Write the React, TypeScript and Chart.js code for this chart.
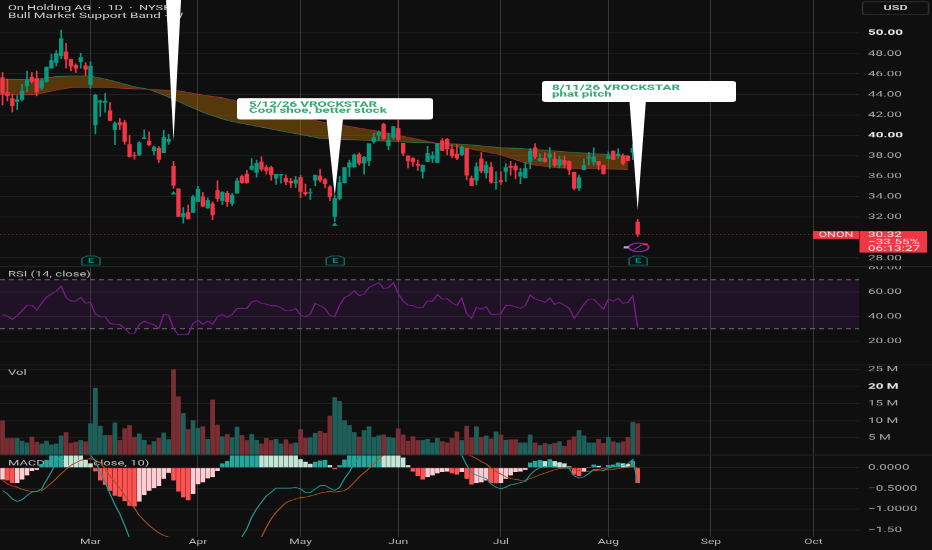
import React, { useEffect, useRef } from "react";
import { Chart, registerables } from "chart.js";

Chart.register(...registerables);

const opens = [45.64,44.2,43.6,43.3,43.5,44.8,45.7,45.57,44.6,45.25,46.55,47.1,47.75,48.18,47.45,46.87,47.2,46.8,44.92,41.0,43.22,43.2,42.4,40.52,41.27,41.24,39.12,38.07,38.08,39.65,39.45,38.47,38.73,38.3,39.38,36.97,34.77,32.0,32.47,32.45,33.5,34.0,32.87,33.32,34.6,33.6,34.33,33.33,34.33,36.0,36.2,36.67,36.38,37.4,36.87,36.87,35.8,36.1,35.8,35.5,35.3,35.9,34.45,34.35,35.6,36.05,35.67,34.98,32.05,33.8,35.37,36.87,36.87,38.13,37.27,37.5,39.37,40.0,41.1,39.0,39.77,40.7,39.25,38.0,37.75,37.2,36.45,37.43,37.73,37.33,39.48,39.6,38.65,38.17,38.1,38.72,35.8,35.6,37.7,36.3,36.9,35.37,35.6,36.45,37.0,37.0,36.0,35.85,37.43,38.8,37.5,37.78,37.85,37.7,37.05,37.55,37.43,36.4,34.82,36.64,37.75,37.37,37.43,37.07,37.72,38.47,38.0,38.0,37.97,38.33,31.55];
const highs = [46.16,45.5,44.0,43.88,45.0,46.3,46.16,46.3,45.57,46.7,47.95,48.3,50.3,49.0,47.45,47.0,48.05,47.13,47.2,44.04,43.45,44.1,43.22,41.33,41.66,41.5,40.0,38.37,39.38,40.55,40.35,38.97,38.9,40.52,40.13,37.5,34.83,32.97,33.2,34.17,35.05,34.43,33.9,33.52,35.57,34.5,34.56,34.33,35.8,36.12,36.6,37.75,37.6,37.9,37.1,37.0,36.2,36.2,36.15,35.8,36.0,36.1,35.25,34.8,36.1,36.7,35.8,35.1,34.16,35.98,36.87,37.6,38.2,38.3,37.95,39.2,40.2,40.45,41.2,40.2,40.9,41.5,39.25,38.0,37.83,37.6,37.1,38.95,38.4,39.2,39.7,39.7,39.05,39.1,38.98,38.72,36.05,37.35,38.33,37.43,37.36,36.45,36.45,37.25,37.5,37.25,36.8,37.36,38.72,39.2,38.2,38.3,38.83,38.35,37.95,37.95,37.52,36.43,36.12,37.69,38.37,38.8,37.5,37.1,38.4,38.5,38.7,38.2,38.05,39.1,31.8];
const lows = [42.96,43.35,42.25,42.48,43.35,44.27,45.08,43.85,44.43,45.18,46.55,46.77,47.5,46.55,46.3,46.1,46.55,45.83,44.6,40.13,41.82,42.25,41.4,39.05,40.52,39.12,37.85,37.65,38.0,39.65,38.97,38.08,37.33,38.3,39.1,34.8,32.05,31.4,31.8,32.45,33.5,33.03,32.87,31.73,33.52,33.2,33.03,33.13,34.33,35.3,35.3,36.6,35.9,36.5,36.2,35.6,35.2,35.3,35.15,34.86,34.9,33.9,34.1,33.72,35.05,35.4,34.85,33.6,31.56,33.66,35.3,35.97,36.87,37.1,36.2,37.0,39.2,39.5,39.6,38.57,39.6,39.4,38.0,36.8,36.96,36.55,35.8,37.4,37.3,37.3,38.47,38.08,37.8,37.6,38.0,35.63,35.05,35.15,36.3,35.8,35.3,34.7,35.2,35.47,36.1,35.73,35.25,35.8,36.7,37.7,37.43,37.35,36.77,36.95,36.8,36.85,36.12,34.65,34.6,36.61,37.1,37.1,36.6,36.2,37.7,37.6,37.75,37.1,37.5,37.6,30.1];
const closes = [44.1,43.85,42.87,43.5,44.35,45.37,45.25,44.2,45.34,46.68,47.33,48.0,49.45,47.43,46.77,46.55,47.62,46.45,46.77,43.94,43.39,43.36,41.43,41.17,41.0,39.38,37.92,37.98,39.28,39.77,39.05,38.86,37.65,39.83,39.6,35.1,32.05,32.38,31.83,34.0,34.75,33.05,33.65,32.22,33.8,34.43,33.49,34.17,35.57,35.37,35.37,37.0,37.27,36.68,36.55,36.13,36.2,36.2,35.45,35.33,35.65,34.5,34.25,34.42,36.1,35.6,35.25,34.0,33.84,35.4,36.87,37.33,38.1,37.27,37.85,39.2,39.8,40.3,39.63,39.55,40.85,39.6,38.25,37.5,37.4,37.05,37.1,38.24,38.0,39.2,38.5,38.65,38.0,37.75,38.84,36.1,35.08,36.93,36.5,37.1,35.4,35.43,35.46,36.85,36.85,36.6,36.4,36.77,38.45,37.9,37.75,37.43,38.2,37.1,37.65,37.15,36.6,34.8,35.86,37.07,37.87,37.9,37.1,36.23,37.98,37.6,38.17,37.25,37.52,38.73,30.32];

const volumesM = [10.1,4.85,4.85,4.85,4.1,3.6,5.3,3.8,3.3,4.1,3.0,3.3,5.6,6.6,3.5,3.8,4.3,3.9,9.2,19.5,8.5,5.8,5.8,9.4,4.3,7.7,8.6,5.2,6.2,4.3,3.0,4.0,4.9,6.5,4.5,25,17,12.1,7.5,10.1,7.8,8.3,4.6,16.1,8.8,5.4,6.1,5.1,8.2,5.8,4.3,6,4.3,3.3,4.9,4.3,4.6,3.3,4.5,3.3,3.6,7.5,5.0,5.1,6.4,7,6.4,11.4,16.8,15.6,10.1,8.6,6.6,5.3,7.2,8.3,5.2,5.7,5.9,5.2,5,7.7,5.9,4.1,5.4,4.3,4.3,4.6,3.6,4.9,4.0,3.6,4.9,6.8,4.3,8.5,5.1,8.3,5.2,5.6,4.7,6.8,5.9,4.4,4.5,4.5,3.6,3.6,5.9,3.6,2.8,3.4,3.1,3.4,3.9,2.6,4.4,5.4,7.2,5.6,3.6,3.6,4.6,3.4,5.2,3.9,3.6,3.9,5.2,9.6,9.2];

const rsiValues = [41.7,40.3,37.6,40.6,44.7,49.3,49.3,45.2,50.7,55.9,58.3,60.8,64.8,55.6,52.6,52.6,55.6,50.7,51.5,42,39.8,39.8,34.4,33.5,33.5,30.3,26.2,26.2,33.5,36.3,34.4,33.5,30.3,41.7,41.2,30.3,24.8,25.7,25.4,34.4,37,33.5,36.3,33.5,39.8,41.7,39.3,41.7,46.6,46.6,46.6,52,52.9,50.7,50.1,48.8,48.8,47.2,44.7,44.7,46.6,41.2,39.8,42,50.7,48.8,46.6,40.6,40,49.3,55.6,57.5,61,56.9,58.3,63.7,65.6,67.6,62.9,63.5,67.6,58.8,52.6,49.3,48.8,47.2,47.2,52.9,52.3,58,54.2,54.5,51.2,49,55,42.5,38.4,47.4,46.1,48,41.7,41.7,42.3,49,49,48,46.6,48.8,57.5,54.2,53.1,51.5,55.3,49.9,51.5,49.3,46.6,38.4,43.9,50.1,54.2,54.2,49.9,45.8,54.2,52.6,54.8,50.7,51.5,56.9,31];

const macdHistogram = [-0.28,-0.3,-0.36,-0.36,-0.28,-0.18,-0.07,-0.05,0.08,0.18,0.3,0.38,0.45,0.42,0.39,0.36,0.32,0.18,0.1,-0.08,-0.3,-0.41,-0.55,-0.67,-0.69,-0.8,-0.91,-0.93,-0.81,-0.65,-0.55,-0.49,-0.43,-0.26,-0.12,-0.3,-0.57,-0.71,-0.78,-0.63,-0.39,-0.35,-0.25,-0.22,-0.07,0.1,0.16,0.31,0.4,0.48,0.55,0.6,0.66,0.63,0.6,0.57,0.54,0.5,0.45,0.38,0.32,0.2,0.14,0.09,0.14,0.17,0.18,0.06,-0.03,0.06,0.19,0.32,0.38,0.44,0.5,0.55,0.6,0.64,0.6,0.55,0.5,0.42,0.24,0.06,-0.09,-0.2,-0.28,-0.22,-0.18,-0.13,-0.1,-0.09,-0.13,-0.16,-0.1,-0.26,-0.4,-0.36,-0.35,-0.3,-0.36,-0.37,-0.36,-0.26,-0.18,-0.1,-0.09,-0.05,0.12,0.16,0.18,0.15,0.2,0.15,0.13,0.1,0.03,-0.16,-0.2,-0.1,0.0,0.07,0.04,-0.02,0.06,0.07,0.12,0.1,0.09,0.15,-0.36];

const macdLine = [-0.55,-0.63,-0.75,-0.81,-0.77,-0.67,-0.59,-0.57,-0.51,-0.3,-0.1,0.14,0.31,0.36,0.38,0.37,0.35,0.33,0.3,0.16,-0.1,-0.35,-0.63,-0.89,-1.11,-1.39,-1.69,-1.98,-2.2,-2.35,-2.48,-2.58,-2.65,-2.7,-2.75,-2.82,-2.9,-2.95,-2.95,-2.9,-2.85,-2.8,-2.7,-2.6,-2.45,-2.35,-2.2,-2.05,-1.85,-1.67,-1.47,-1.19,-0.99,-0.83,-0.68,-0.59,-0.49,-0.49,-0.49,-0.49,-0.47,-0.51,-0.6,-0.6,-0.51,-0.43,-0.43,-0.49,-0.55,-0.47,-0.26,-0.1,0.1,0.25,0.38,0.48,0.56,0.62,0.67,0.7,0.72,0.73,0.72,0.7,0.67,0.63,0.6,0.58,0.55,0.52,0.5,0.47,0.44,0.4,0.3,0.06,-0.12,-0.18,-0.22,-0.26,-0.39,-0.47,-0.51,-0.47,-0.41,-0.39,-0.36,-0.33,-0.17,-0.06,0,0.03,0.04,0.03,0,0,-0.02,-0.2,-0.25,-0.22,-0.14,-0.04,-0.04,-0.07,0,0.02,0.03,0.06,0.1,0.2,-0.36];

const signalLine = [-0.3,-0.39,-0.44,-0.47,-0.52,-0.55,-0.57,-0.57,-0.55,-0.47,-0.37,-0.26,-0.14,-0.04,0.06,0.12,0.18,0.2,0.22,0.18,0.12,-0.02,-0.2,-0.35,-0.49,-0.67,-0.83,-0.97,-1.15,-1.27,-1.39,-1.48,-1.57,-1.63,-1.67,-1.72,-1.77,-1.82,-1.87,-1.9,-1.93,-1.97,-2.0,-2.02,-2.02,-2.0,-2.0,-1.98,-1.95,-1.92,-1.88,-1.82,-1.75,-1.67,-1.43,-1.23,-1.07,-0.95,-0.84,-0.79,-0.75,-0.72,-0.71,-0.68,-0.65,-0.61,-0.59,-0.57,-0.59,-0.57,-0.55,-0.47,-0.35,-0.22,-0.12,-0.02,0.09,0.22,0.31,0.38,0.44,0.5,0.54,0.57,0.59,0.6,0.6,0.59,0.57,0.55,0.53,0.5,0.47,0.43,0.38,0.33,0.28,0.22,0.15,0.09,-0.01,-0.09,-0.15,-0.22,-0.26,-0.28,-0.3,-0.3,-0.26,-0.22,-0.17,-0.13,-0.09,-0.05,-0.02,-0.01,-0.01,-0.04,-0.07,-0.09,-0.09,-0.07,-0.06,-0.06,-0.05,-0.04,-0.02,0,0.02,0.06,-0.02];

const bandIndex = [-1,0,4,7,11,14,18,22,27,30,33,36,41,45,47,65,77,89,95,102,105,108,113,116,128];
const bandGreen = [45.5,45.5,45.45,45.45,45.75,45.8,45.8,45.4,44.75,44.5,43.94,43.3,42.25,41.6,41.34,39.7,39.45,39.22,39.1,38.8,38.73,38.65,38.47,38.35,38.0];
const bandRed = [44.0,44.0,43.94,44.0,44.43,44.66,44.7,44.66,44.54,44.5,44.42,44.36,43.94,43.68,43.45,41.34,40.4,39.22,38.73,38.1,37.6,37.16,36.85,36.77,36.67];

const monthIndex = [18,40,61,81,102,124,145,166];
const monthLabels = ["Mar","Apr","May","Jun","Jul","Aug","Sep","Oct"];
const priceTicks = [28,32,34,36,38,40,42,44,46,48,50];
const rsiTicks = [20,40,60];
const volTicks = [5,10,15,20,25];
const macdTicks = [0,-0.5,-1,-1.5];
const macdTickLabels = ["0.0000","\u22120.5000","\u22121.0000","\u22121.50"];

const earningsIndex = [18,68,130];
const triangleIndex = [35,68];
const trianglePrice = [34.36,31.3];
const lastPrice = 30.32;
const lastChange = "\u221233.55%";
const countdown = "06:13:27";
const pinIndex = [35,68,130];
const pinTipPrice = [39.45,34.1,32.7];
const titleLines = ["On Holding AG  \u00b7  1D  \u00b7  NYSE","Bull Market Support Band \u00b7 W"];
const noteOne = ["5/12/26 VROCKSTAR","Cool shoe, better stock"];
const noteTwo = ["8/11/26 VROCKSTAR","phat pitch"];

const W = 932;
const H = 917;
const SY = 550 / H;
const Y = (real: number) => real / SY;
const FONT = "Roboto, sans-serif";
const UP = "#089981";
const DOWN = "#f23645";

const idx = opens.map((_, i) => i);
const isUp = (i: number) => closes[i] >= opens[i];

function histColor(i: number) {
  const v = macdHistogram[i];
  const prev = i > 0 ? macdHistogram[i - 1] : v;
  if (v >= 0) return v >= prev ? "#26a69a" : "#c3e6d8";
  return v < prev ? "#ff5252" : "#ffcdd2";
}

const fixedTicks = (values: number[]) => (s: any) => {
  s.ticks = values.map((value) => ({ value }));
};
const fixWidth = (s: any) => {
  s.width = 73;
  s.paddingTop = 0;
  s.paddingBottom = 0;
};

const boldTick = (values: number[]) => (ctx: any) => ({
  family: FONT,
  size: 13.5,
  weight: ctx.tick && values.includes(ctx.tick.value) ? "bold" : "normal",
});
const tickColor = (values: number[]) => (ctx: any) =>
  ctx.tick && values.includes(ctx.tick.value) ? "#e4e4e4" : "#a8a8a8";

const yCommon = (values: number[], bold: number[]) => ({
  position: "right" as const,
  stack: "panes",
  afterBuildTicks: fixedTicks(values),
  afterFit: fixWidth,
  border: { display: false },
  grid: { color: "rgba(255,255,255,0.075)", lineWidth: 1.6, drawTicks: false },
  ticks: {
    autoSkip: false,
    padding: 9,
    font: boldTick(bold),
    color: tickColor(bold),
  },
});

function text(ctx: any, s: string, x: number, y: number, font: string, color: string, align = "left") {
  ctx.font = font;
  ctx.fillStyle = color;
  ctx.textAlign = align;
  ctx.textBaseline = "middle";
  ctx.fillText(s, x, Y(y));
}

const annotations = {
  id: "annotations",
  beforeDatasetsDraw(chart: any) {
    const { ctx, scales } = chart;
    const { left, right } = chart.chartArea;
    ctx.save();
    // RSI band
    const top = scales.yr.getPixelForValue(70);
    const bottom = scales.yr.getPixelForValue(30);
    ctx.fillStyle = "rgba(126,40,170,0.14)";
    ctx.fillRect(left, top, right - left, bottom - top);
    ctx.strokeStyle = "#6d6d72";
    ctx.lineWidth = 1.6;
    ctx.setLineDash([5, 4]);
    for (const p of [top, bottom]) {
      ctx.beginPath();
      ctx.moveTo(left, p);
      ctx.lineTo(right, p);
      ctx.stroke();
    }
    // last price line
    const lp = scales.y.getPixelForValue(lastPrice);
    ctx.strokeStyle = "rgba(242,54,69,0.65)";
    ctx.setLineDash([1.5, 2.5]);
    ctx.beginPath();
    ctx.moveTo(left, lp);
    ctx.lineTo(right, lp);
    ctx.stroke();
    ctx.setLineDash([]);
    // pane titles
    text(ctx, titleLines[0], 8, 8, `12.8px ${FONT}`, "#cfcfcf");
    text(ctx, titleLines[1], 8, 16, `13.5px ${FONT}`, "#cfcfcf");
    const g = `13px ${FONT}`;
    text(ctx, "RSI (14, close)", 8, 274.5, g, "#bdbdbd");
    text(ctx, "Vol", 8, 373, g, "#bdbdbd");
    text(ctx, "MACD (12, 26, close, 10)", 8, 463.5, g, "#bdbdbd");
    ctx.restore();
  },
  afterDraw(chart: any) {
    const { ctx, scales } = chart;
    const { x, y } = scales;
    ctx.save();
    // pane separators
    ctx.strokeStyle = "#262626";
    ctx.lineWidth = 1.6;
    for (const s of [scales.yr, scales.yv, scales.ym]) {
      ctx.beginPath();
      ctx.moveTo(0, s.top);
      ctx.lineTo(W, s.top);
      ctx.stroke();
    }
    // partly hidden RSI 80 tick
    ctx.save();
    ctx.beginPath();
    ctx.rect(860, scales.yr.top, 72, 40);
    ctx.clip();
    text(ctx, "80.00", 868, scales.yr.getPixelForValue(80) * SY, `13.5px ${FONT}`, "#a8a8a8");
    ctx.restore();

    // triangles under earnings candles
    ctx.fillStyle = UP;
    triangleIndex.forEach((i, k) => {
      const px = x.getPixelForValue(i);
      const py = y.getPixelForValue(trianglePrice[k]);
      ctx.beginPath();
      ctx.moveTo(px, py - Y(2));
      ctx.lineTo(px + 3, py + Y(1.5));
      ctx.lineTo(px - 3, py + Y(1.5));
      ctx.closePath();
      ctx.fill();
    });

    // earnings marks
    earningsIndex.forEach((i) => {
      const px = x.getPixelForValue(i) + 0.5;
      const t = Y(256);
      const b = Y(265);
      ctx.beginPath();
      ctx.moveTo(px - 9, t + Y(2.2));
      ctx.lineTo(px - 4, t);
      ctx.lineTo(px + 4, t);
      ctx.lineTo(px + 9, t + Y(2.2));
      ctx.lineTo(px + 9, b);
      ctx.lineTo(px - 9, b);
      ctx.closePath();
      ctx.fillStyle = "#0f1212";
      ctx.fill();
      ctx.strokeStyle = "#0e6e66";
      ctx.lineWidth = 1.4;
      ctx.stroke();
      text(ctx, "E", px, 261, `bold 11px ${FONT}`, "#0e8a80", "center");
    });

    // purple alert glyph
    const gx = x.getPixelForValue(130);
    const gy = y.getPixelForValue(lastPrice) + Y(13);
    ctx.strokeStyle = "#8e24aa";
    ctx.lineWidth = 2;
    ctx.beginPath();
    ctx.ellipse(gx + 1, gy, 10, Y(4.2), 0, 0, Math.PI * 2);
    ctx.stroke();
    ctx.lineWidth = 1.6;
    ctx.beginPath();
    ctx.moveTo(gx - 4, gy + 4);
    ctx.lineTo(gx + 4, gy - 4);
    ctx.stroke();
    ctx.fillStyle = "#b9a6c8";
    ctx.fillRect(gx - 14, gy - 2, 5, 4);
    ctx.fillStyle = DOWN;
    ctx.fillRect(gx + 5, gy - Y(4), 5, Y(1.8));

    // callouts
    ctx.fillStyle = "#ffffff";
    const wedge = (i: number, half: number, base: number) => {
      const px = x.getPixelForValue(i);
      ctx.beginPath();
      ctx.moveTo(px - half, Y(base));
      ctx.lineTo(px + half, Y(base));
      ctx.lineTo(px, y.getPixelForValue(pinTipPrice[pinIndex.indexOf(i)]));
      ctx.closePath();
      ctx.fill();
    };
    const box = (l: number, t: number, r: number, b: number) => {
      ctx.beginPath();
      ctx.roundRect(l, Y(t), r - l, Y(b - t), [4, 4, 4, 4]);
      ctx.fill();
    };
    wedge(35, 7.5, 0);
    wedge(68, 8.3, 118);
    wedge(130, 8.2, 101);
    ctx.fillStyle = "#ffffff";
    box(237, 98, 433, 119.5);
    ctx.fillStyle = "#ffffff";
    box(542, 81, 736, 102);
    const noteFont = `bold 13.3px ${FONT}`;
    text(ctx, noteOne[0], 249, 104.6, noteFont, "#35a873");
    text(ctx, noteOne[1], 249, 110.8, noteFont, "#35a873");
    text(ctx, noteTwo[0], 552, 88.2, noteFont, "#35a873");
    text(ctx, noteTwo[1], 552, 94.4, noteFont, "#35a873");

    // USD box
    ctx.strokeStyle = "#333333";
    ctx.lineWidth = 1.4;
    ctx.beginPath();
    ctx.roundRect(862.5, Y(1.8), 66, Y(12.8), [3, 3, 3, 3]);
    ctx.stroke();
    text(ctx, "USD", 895.5, 8.2, `bold 12.5px ${FONT}`, "#c8c8c8", "center");

    // last price tags
    ctx.fillStyle = DOWN;
    ctx.fillRect(813, Y(231), 46, Y(8));
    ctx.fillRect(859.5, Y(231), 67.5, Y(21.6));
    text(ctx, "ONON", 836, 235, `12.5px ${FONT}`, "#f8e6e8", "center");
    const tag = `13.5px ${FONT}`;
    text(ctx, lastPrice.toFixed(2), 868, 235, tag, "#ffe9eb");
    text(ctx, lastChange, 868, 242, tag, "#ffe9eb");
    text(ctx, countdown, 868, 248.6, tag, "#ffe9eb");
    ctx.restore();
  },
};

export default function App() {
  const ref = useRef<HTMLCanvasElement | null>(null);

  useEffect(() => {
    document.body.style.margin = "0";
    document.body.style.background = "#0f0f0f";
    const chart = new Chart(ref.current as HTMLCanvasElement, {
      type: "bar",
      data: {
        datasets: [
          {
            type: "line",
            yAxisID: "y",
            order: 10,
            data: bandIndex.map((v, k) => ({ x: v, y: bandGreen[k] })),
            borderColor: "rgba(46,125,90,0.85)",
            borderWidth: 1.3,
            pointRadius: 0,
            fill: { target: 1, above: "rgba(255,152,0,0.3)", below: "rgba(255,152,0,0.3)" },
          },
          {
            type: "line",
            yAxisID: "y",
            order: 9,
            data: bandIndex.map((v, k) => ({ x: v, y: bandRed[k] })),
            borderColor: "rgba(190,50,60,0.75)",
            borderWidth: 1.3,
            pointRadius: 0,
          },
          {
            type: "bar",
            yAxisID: "y",
            order: 5,
            grouped: false,
            barThickness: 1,
            data: idx.map((i) => ({ x: i, y: [lows[i], highs[i]] })),
            backgroundColor: idx.map((i) => (isUp(i) ? UP : DOWN)),
          },
          {
            type: "bar",
            yAxisID: "y",
            order: 4,
            grouped: false,
            barThickness: 3.7,
            data: idx.map((i) => ({ x: i, y: [opens[i], closes[i]] })),
            backgroundColor: idx.map((i) => (isUp(i) ? UP : DOWN)),
          },
          {
            type: "line",
            yAxisID: "yr",
            order: 3,
            data: idx.map((i) => ({ x: i, y: rsiValues[i] })),
            borderColor: "#7b1f8c",
            borderWidth: 1.4,
            pointRadius: 0,
          },
          {
            type: "bar",
            yAxisID: "yv",
            order: 3,
            grouped: false,
            barThickness: 4.1,
            data: idx.map((i) => ({ x: i, y: volumesM[i] })),
            backgroundColor: idx.map((i) => (isUp(i) ? "#1f5f5a" : "#7a2e33")),
          },
          {
            type: "bar",
            yAxisID: "ym",
            order: 3,
            grouped: false,
            barThickness: 3.9,
            data: idx.map((i) => ({ x: i, y: macdHistogram[i] })),
            backgroundColor: idx.map(histColor),
          },
          {
            type: "line",
            yAxisID: "ym",
            order: 2,
            data: idx.map((i) => ({ x: i, y: signalLine[i] })),
            borderColor: "#b5501c",
            borderWidth: 1.3,
            pointRadius: 0,
          },
          {
            type: "line",
            yAxisID: "ym",
            order: 1,
            data: idx.map((i) => ({ x: i, y: macdLine[i] })),
            borderColor: "#1f9c95",
            borderWidth: 1.3,
            pointRadius: 0,
          },
        ],
      } as any,
      options: {
        responsive: false,
        maintainAspectRatio: false,
        devicePixelRatio: 1,
        animation: false,
        events: [],
        layout: { padding: 0, autoPadding: false },
        plugins: { legend: { display: false }, tooltip: { enabled: false } },
        scales: {
          x: {
            type: "linear",
            offset: false,
            min: -0.52,
            max: 175.3,
            afterBuildTicks: fixedTicks(monthIndex),
            afterFit: (s: any) => {
              s.height = 22;
            },
            border: { display: false },
            grid: { offset: false, color: "rgba(255,255,255,0.17)", lineWidth: 1, drawTicks: false },
            ticks: {
              autoSkip: false,
              maxRotation: 0,
              padding: 2,
              color: "#b8b8b8",
              font: { family: FONT, size: 12 },
              callback: (v: any) => monthLabels[monthIndex.indexOf(Number(v))] ?? "",
            },
          },
          y: {
            ...yCommon(priceTicks, [50, 40]),
            weight: 1,
            stackWeight: 266.5,
            min: 27.175,
            max: 53.226,
            ticks: { ...yCommon(priceTicks, [50, 40]).ticks, callback: (v: any) => Number(v).toFixed(2) },
          },
          yr: {
            ...yCommon(rsiTicks, []),
            weight: 2,
            stackWeight: 98.5,
            min: 0.41,
            max: 80.8,
            ticks: { ...yCommon(rsiTicks, []).ticks, callback: (v: any) => Number(v).toFixed(2) },
          },
          yv: {
            ...yCommon(volTicks, [20]),
            weight: 3,
            stackWeight: 90,
            min: 0,
            max: 26.25,
            ticks: { ...yCommon(volTicks, [20]).ticks, callback: (v: any) => `${v} M` },
          },
          ym: {
            ...yCommon(macdTicks, []),
            weight: 4,
            stackWeight: 81.8,
            min: -1.663,
            max: 0.3057,
            ticks: {
              ...yCommon(macdTicks, []).ticks,
              callback: (v: any) => macdTickLabels[macdTicks.indexOf(Number(v))] ?? "",
            },
          },
        },
      } as any,
      plugins: [annotations],
    });
    return () => chart.destroy();
  }, []);

  return (
    <div style={{ position: "absolute", left: 0, top: 0, width: W, height: 550, background: "#0f0f0f" }}>
      <canvas ref={ref} width={W} height={H} style={{ width: W, height: 550, display: "block" }} />
    </div>
  );
}
